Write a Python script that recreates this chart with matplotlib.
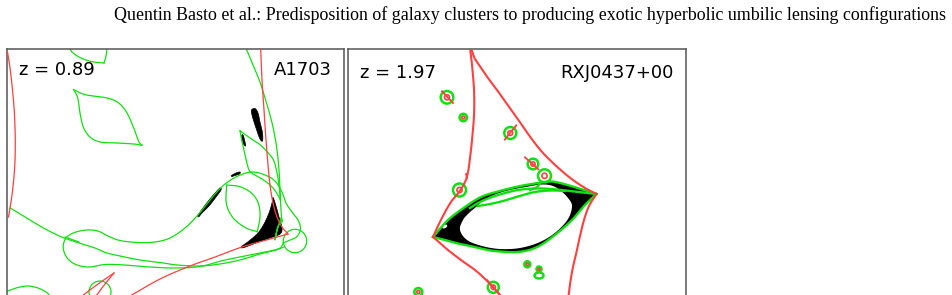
import numpy as np
import matplotlib.pyplot as plt
from matplotlib.patches import Polygon, Circle, Ellipse

RED = '#ff4040'
GREEN = '#10e010'

# ---- A1703 (z = 0.89): critical curves (red), caustics (green), HU regions (black)
# coordinates are map pixels
a_red = [
    ([7.5, 10, 12.5, 14.5, 15.3, 14.5, 12, 8.5], [52, 68, 90, 115, 145, 170, 195, 217]),
    ([260.7, 262, 264, 266, 268, 270, 273, 277, 282, 288], [49, 80, 110, 140, 165, 185, 203, 217, 227, 234]),
    ([288, 270, 242, 215, 190, 160, 130], [234, 239, 247, 257, 266, 279, 296]),
    ([82, 98, 114], [296, 284, 273]),
    ([114, 105, 96], [273, 284, 296]),
]
a_green = [
    ([69.5, 72, 78, 86, 94, 104], [48, 52, 56.5, 60, 62, 63]),
    ([104, 106, 107], [63, 56, 48]),
    # leaf
    ([73.7, 85.3, 107, 118.7, 127, 133.7, 138.7, 142], [89.7, 94.7, 98, 103, 113, 128, 141.3, 145.3]),
    ([142, 133.7, 117, 100.3, 90.3, 83.7, 80.3, 77.7, 73.7], [145.3, 144, 143, 142, 137.3, 128, 114.7, 98, 89.7]),
    # long arc from the top
    ([246, 253, 260, 265, 270, 274, 277, 279, 280, 281, 282], [48, 65, 82, 98, 115, 132, 150, 170, 190, 210, 222]),
    # teardrop
    ([240, 250, 260, 266.7, 273.3, 276.7, 279, 280.5], [130.7, 138, 144.7, 151.3, 159.7, 171.3, 185, 200]),
    ([240, 241.7, 245, 248.3, 251.7, 262, 270, 276, 280.5], [130.7, 139.7, 154.7, 168, 173, 179, 185, 192, 200]),
    # almond
    ([226.7, 226, 228.3, 235, 246.7, 257.3], [185, 200, 210, 220, 228.3, 231.7]),
    ([257.3, 260, 258.3, 251.7, 240, 226.7], [231.7, 216.7, 203.3, 193.3, 186.7, 185]),
    # long curve from the left edge
    ([10.3, 25, 40, 53, 65, 79, 95, 107, 125, 140, 160, 177, 200, 220, 240, 260, 276, 284],
     [208, 217, 226, 233, 238.3, 243, 248, 253, 257, 260, 262.5, 265, 266, 264, 260, 254, 250, 247]),
    ([65, 72, 79], [237, 239.5, 242]),
    # loop
    ([283, 278, 255, 225, 200, 175, 150, 125, 105, 90, 77, 68, 63.5, 64, 68, 76, 87, 98, 108, 120, 138, 155,
      170, 185, 197, 206, 215, 225, 238, 252, 265, 275, 282, 286, 292, 298, 300.5, 297, 290, 283],
     [244, 249, 254, 260, 266.5, 268, 267, 265, 264.5, 267, 265, 259, 250, 242, 236, 232, 230, 231, 236, 240.5,
      242.5, 242, 238, 228, 216, 205, 194, 184, 176, 172, 175, 181, 192, 203, 212, 220, 229, 236.5, 240, 243]),
    ([281, 277, 275, 278, 282.5], [218, 230, 240, 227, 220]),
    ([7.5, 18, 28, 38, 46, 50], [291, 287.5, 286, 288, 292, 296]),
]
a_green_rings = [(295, 241, 11.7), (100, 292, 11)]
a_black = [
    ([251.5, 255, 258, 260, 262.5, 262.5, 260, 257, 254, 252], [110, 108.5, 113, 122, 133, 141, 139, 131, 122, 115]),
    ([241.5, 243, 245, 245.5, 243.5, 242], [136, 135, 142, 146, 144, 140]),
    ([231.5, 236, 240, 239.5, 235, 232], [175.5, 173, 172, 174, 175.5, 176.5]),
    ([198, 203, 210, 216, 220, 221, 216, 209, 202, 199], [215.5, 208, 199, 192, 188, 190, 197, 206, 213, 216.5]),
    ([273, 276, 279, 282, 280, 270, 256, 244, 241, 249, 258, 264, 269, 272],
     [197.5, 206, 217, 228, 234, 238, 243, 247.5, 247, 241, 233, 224, 213, 203]),
]

# ---- RXJ0437+00 (z = 1.97)
r_red = [
    ([470, 472, 474, 474, 472, 470, 468, 465, 459, 451, 444, 438, 433],
     [48, 65, 90, 115, 140, 158, 172, 182, 192, 202, 214, 226, 237]),
    ([433, 440, 448, 461, 475, 484, 491, 501], [237, 243, 250, 260, 270, 278, 285, 296]),
    ([471, 474, 479, 488, 497, 507, 517, 526, 534, 543, 553, 563, 573, 585, 596.5],
     [48, 57, 65, 78, 90, 104, 118, 131, 142, 153, 163, 172, 180, 188, 194]),
    ([596.5, 589, 584, 580, 576.5, 573, 570.5, 568.5], [194, 206, 220, 236, 252, 267, 281, 296]),
]
r_lens_top = ([433, 448, 465, 481, 498, 518, 538, 551, 560, 571, 584, 596.5],
              [237, 220, 207, 197, 191.5, 186.5, 183, 181.5, 183, 186, 190, 194])
r_lens_bot = ([596.5, 585, 571, 551, 535, 518, 500, 488, 470, 458, 445, 433],
              [194, 205, 221, 238, 248, 252, 251.5, 250, 246, 243.5, 240, 237])
r_inner = [
    ([470, 480, 492, 505, 518, 535, 551, 570, 596], [208, 202, 197, 193, 190, 188.5, 189, 191, 194]),
    ([478, 490, 503, 518, 535, 551, 565], [206, 204, 201, 196.5, 192, 190.5, 191]),
    ([541, 537, 530], [182, 187, 190]),
]
r_hole = ([460, 463, 469, 476, 484, 495, 510, 526, 542, 553, 561, 568, 572, 568, 556, 540, 520, 500, 482, 467],
          [230, 220, 213, 207, 200, 194.5, 190, 187, 184.5, 186, 191, 198, 206, 219, 232, 242, 248, 249, 246, 240])
# member galaxies: x, y, radius of the green ring
r_members = [(447, 97.3, 6.3), (463.3, 117.5, 3.7), (510.3, 133, 6), (533, 164, 5.3), (544.5, 175.8, 6.5),
             (459.5, 190, 6.5), (527.3, 264.3, 3), (539, 269, 2.5), (493.3, 287.3, 5.5), (418.3, 292, 4)]
r_ticks = [([442, 453], [91.3, 103]), ([516.3, 504.7], [125.3, 139.7]), ([525, 538.3], [157.3, 169.3]),
           ([487, 500], [280, 295]), ([466, 467], [174, 178])]


def smooth(xs, ys, n=10, closed=False):
    pts = np.column_stack([xs, ys]).astype(float)
    if closed:
        pad = np.vstack([pts[-1], pts, pts[0], pts[1]])
    else:
        pad = np.vstack([2 * pts[0] - pts[1], pts, 2 * pts[-1] - pts[-2]])
    t = np.linspace(0, 1, n, endpoint=False)[:, None]
    out = []
    for i in range(1, len(pad) - 2):
        p0, p1, p2, p3 = pad[i - 1:i + 3]
        out.append(0.5 * (2 * p1 + (-p0 + p2) * t + (2 * p0 - 5 * p1 + 4 * p2 - p3) * t ** 2
                          + (-p0 + 3 * p1 - 3 * p2 + p3) * t ** 3))
    out.append(pad[-2][None])
    return np.vstack(out)


fig = plt.figure(figsize=(9.53, 2.95), dpi=100)
fig.text(946 / 953, 1 - 20 / 295,
         'Quentin Basto et al.: Predisposition of galaxy clusters to producing exotic hyperbolic umbilic lensing configurations',
         ha='right', va='baseline', fontfamily='Liberation Serif', fontsize=12.9)

ax1 = fig.add_axes([7 / 953, (295 - 386) / 295, 337 / 953, 337 / 295])
ax2 = fig.add_axes([348 / 953, (295 - 387) / 295, 338 / 953, 338 / 295])
for ax, lims in ((ax1, (7, 344, 386, 49)), (ax2, (348, 686, 387, 49))):
    ax.set_xlim(lims[0], lims[1])
    ax.set_ylim(lims[2], lims[3])
    ax.set_xticks([])
    ax.set_yticks([])
    for s in ax.spines.values():
        s.set_color('#555555')
        s.set_linewidth(1.1)

# left panel
for xs, ys in a_black:
    ax1.add_patch(Polygon(smooth(xs, ys, closed=True), fc='black', ec='black', lw=0.5, zorder=1))
for xs, ys in a_red:
    p = smooth(xs, ys)
    ax1.plot(p[:, 0], p[:, 1], color=RED, lw=0.9, zorder=3)
for xs, ys in a_green:
    p = smooth(xs, ys)
    ax1.plot(p[:, 0], p[:, 1], color=GREEN, lw=0.9, zorder=2)
for cx, cy, r in a_green_rings:
    ax1.add_patch(Circle((cx, cy), r, fill=False, ec=GREEN, lw=0.9, zorder=2))
ax1.text(0.035, 0.922, 'z = 0.89', transform=ax1.transAxes, fontsize=13, va='baseline')
ax1.text(0.9635, 0.924, 'A1703', transform=ax1.transAxes, fontsize=13, va='baseline', ha='right')

# right panel
lens = np.vstack([smooth(*r_lens_top), smooth(*r_lens_bot)])
ax2.add_patch(Polygon(lens, fc='black', ec='none', zorder=1))
ax2.add_patch(Polygon(smooth(*r_hole, closed=True), fc='white', ec='none', zorder=1.5))
ax2.add_patch(Ellipse((444.7, 226.5), 5.5, 3.3, angle=-30, fc='white', ec='none', zorder=1.6))
for xs, ys in r_red:
    p = smooth(xs, ys)
    ax2.plot(p[:, 0], p[:, 1], color=RED, lw=1.5, zorder=3)
for xs, ys in [r_lens_top, r_lens_bot] + r_inner:
    p = smooth(xs, ys)
    ax2.plot(p[:, 0], p[:, 1], color=GREEN, lw=1.7, zorder=2)
for xs, ys in r_ticks:
    ax2.plot(xs, ys, color=RED, lw=1.3, zorder=3)
for cx, cy, r in r_members:
    ax2.add_patch(Circle((cx, cy), r, fill=False, ec=GREEN, lw=1.8, zorder=2))
    ax2.add_patch(Circle((cx, cy), max(r * 0.4, 1.0), fill=False, ec=RED, lw=1.2, zorder=3))
ax2.add_patch(Ellipse((539, 275.5), 9, 6, fill=False, ec=GREEN, lw=1.8, zorder=2))
ax2.text(0.0346, 0.914, 'z = 1.97', transform=ax2.transAxes, fontsize=13, va='baseline')
ax2.text(0.9645, 0.914, 'RXJ0437+00', transform=ax2.transAxes, fontsize=13, va='baseline', ha='right')

fig.savefig('out.png', dpi=100)
